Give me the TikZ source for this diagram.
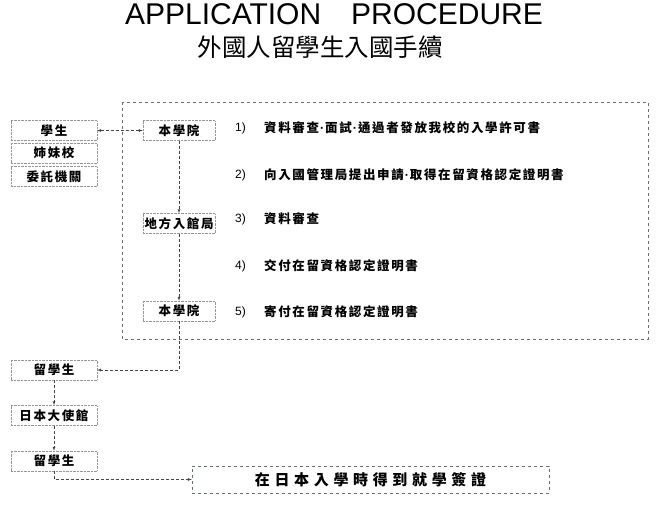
\documentclass[tikz,border=0pt]{standalone}
\usepackage{fontspec}
\setmainfont{Liberation Sans}
\newfontfamily\cjk{Noto Sans CJK TC}
\newfontfamily\cjkbox[LetterSpace=13]{Noto Sans CJK TC}
\newfontfamily\cjkwide[LetterSpace=31]{Noto Sans CJK TC}
\newcommand\middot{{\normalfont\bfseries\hspace{1pt}·\hspace{1pt}}}
\definecolor{framegreen}{RGB}{95,120,95}
\definecolor{boxgray}{RGB}{150,150,150}
\definecolor{arrowgray}{RGB}{70,70,70}
\begin{document}
\begin{tikzpicture}[x=1pt,y=-1pt]
        % Define styles for shapes
        \tikzset{
            smallbox/.style={draw=boxgray, densely dotted, minimum width=86pt, minimum height=20pt, inner sep=0pt, font=\cjkbox\bfseries\fontsize{12.5}{12.5}\selectfont},
            midbox/.style={smallbox, minimum width=72pt},
            steptext/.style={anchor=west, inner sep=0pt, font=\cjkbox\bfseries\fontsize{12.5}{12.5}\selectfont},
            stepnum/.style={anchor=west, inner sep=0pt, font=\fontsize{12}{12}\selectfont},
            conn/.style={draw=arrowgray, densely dashed, -latex}
        }
        \useasboundingbox (0,0) rectangle (659,523);
        % Title
        \node[inner sep=0pt] (title) at (334,14) {\fontsize{30}{30}\selectfont APPLICATION\quad PROCEDURE};
        \node[inner sep=0pt] (subtitle) at (320,47) {\cjk\fontsize{24.5}{24.5}\selectfont 外國人留學生入國手續};
        % Big dashed frame
        \draw[framegreen, dashed] (122,102) rectangle (648,339);
        % Left boxes
        \node[smallbox] (stu) at (54,130.5) {學生};
        \node[smallbox] (sister) at (54,153) {姉妹校};
        \node[smallbox] (agency) at (54,176.5) {委託機關};
        % Boxes inside the frame
        \node[midbox] (school1) at (179,130.5) {本學院};
        \node[midbox] (office) at (179,223.5) {地方入館局};
        \node[midbox] (school2) at (179,311) {本學院};
        % Steps
        \node[stepnum] (n1) at (235,128) {1)};
        \node[steptext] (s1) at (264,128) {資料審查\middot 面試\middot 通過者發放我校的入學許可書};
        \node[stepnum] (n2) at (235,175) {2)};
        \node[steptext] (s2) at (264,175) {向入國管理局提出申請\middot 取得在留資格認定證明書};
        \node[stepnum] (n3) at (235,219) {3)};
        \node[steptext] (s3) at (264,219) {資料審查};
        \node[stepnum] (n4) at (235,266) {4)};
        \node[steptext] (s4) at (264,266) {交付在留資格認定證明書};
        \node[stepnum] (n5) at (235,312) {5)};
        \node[steptext] (s5) at (264,312) {寄付在留資格認定證明書};
        % Lower boxes
        \node[smallbox] (ryu1) at (54,370) {留學生};
        \node[smallbox] (embassy) at (54,415.5) {日本大使館};
        \node[smallbox] (ryu2) at (54,461) {留學生};
        \node[draw=framegreen, dashed, minimum width=357pt, minimum height=27pt, inner sep=0pt] (visa) at (370.5,479.5) {\cjkwide\bfseries\fontsize{15}{15}\selectfont 在日本入學時得到就學簽證};
        % Draw arrows
        \draw[conn, latex-latex] (stu) -- (school1);
        \draw[conn] (school1) -- (office);
        \draw[conn] (office) -- (school2);
        \draw[conn] (school2.south) |- (ryu1.east);
        \draw[conn] (ryu1) -- (embassy);
        \draw[conn] (embassy) -- (ryu2);
        \draw[conn] (ryu2.south) |- (visa.west);
    \end{tikzpicture}
\end{document}
